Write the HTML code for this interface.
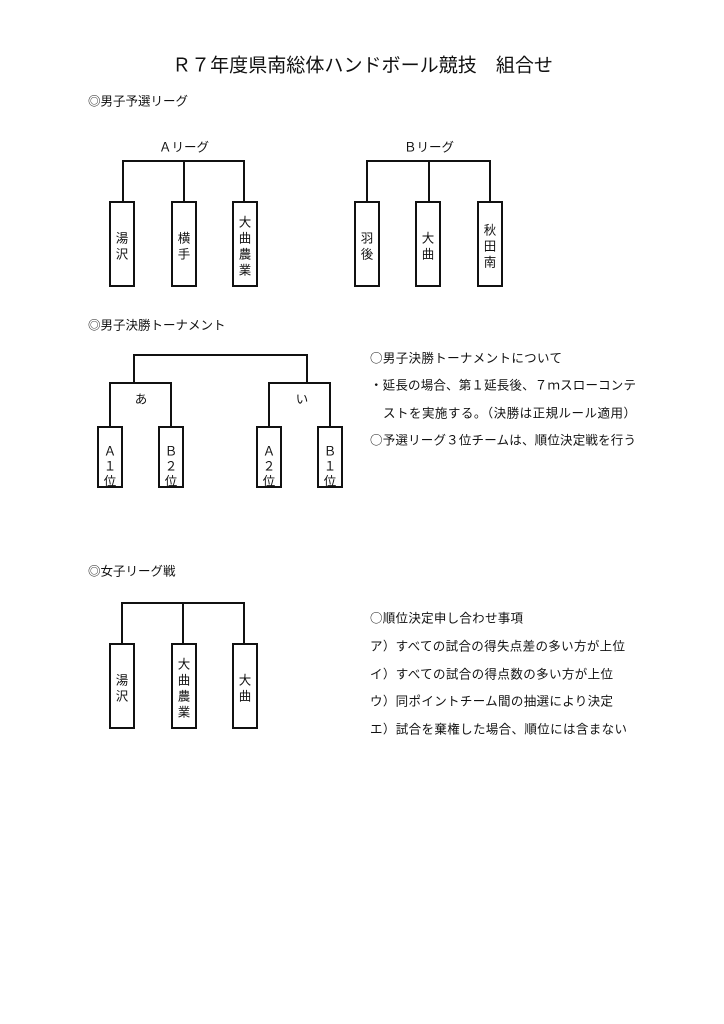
<!DOCTYPE html>
<html><head><meta charset="utf-8"><style>
html,body{margin:0;padding:0;background:#fff;}
svg{display:block;font-family:"Noto Sans CJK JP","Liberation Sans",sans-serif;}
text{fill:#111;}
</style></head><body>
<svg width="724" height="1024" viewBox="0 0 724 1024" xmlns="http://www.w3.org/2000/svg">
<g font-size="12.5" dominant-baseline="central">
<text x="172" y="64" font-size="19" textLength="381" lengthAdjust="spacingAndGlyphs">Ｒ７年度県南総体ハンドボール競技　組合せ</text>
<text x="88" y="100">◎男子予選リーグ</text>
<text x="88" y="324">◎男子決勝トーナメント</text>
<text x="88" y="570">◎女子リーグ戦</text>

<text x="184" y="146" text-anchor="middle">Ａリーグ</text>
<text x="429" y="146" text-anchor="middle">Ｂリーグ</text>

<text x="370" y="357" textLength="192">○男子決勝トーナメントについて</text>
<text x="370" y="384" textLength="266">・延長の場合、第１延長後、７ｍスローコンテ</text>
<text x="370" y="412" textLength="266">　ストを実施する。（決勝は正規ルール適用）</text>
<text x="370" y="439" textLength="266">○予選リーグ３位チームは、順位決定戦を行う</text>

<text x="370" y="617" textLength="153">○順位決定申し合わせ事項</text>
<text x="370" y="645" textLength="255">ア）すべての試合の得失点差の多い方が上位</text>
<text x="370" y="673" textLength="243">イ）すべての試合の得点数の多い方が上位</text>
<text x="370" y="700" textLength="243">ウ）同ポイントチーム間の抽選により決定</text>
<text x="370" y="728" textLength="257">エ）試合を棄権した場合、順位には含まない</text>

<text x="141" y="398" text-anchor="middle">あ</text>
<text x="302" y="398" text-anchor="middle">い</text>
</g>

<g stroke="#111" stroke-width="2" fill="none">
<polyline points="123,202 123,161 244,161 244,202"/>
<line x1="184" y1="161" x2="184" y2="202"/>
<rect x="110" y="202" width="24" height="84"/>
<rect x="172" y="202" width="24" height="84"/>
<rect x="233" y="202" width="24" height="84"/>
<polyline points="367,202 367,161 490,161 490,202"/>
<line x1="429" y1="161" x2="429" y2="202"/>
<rect x="355" y="202" width="24" height="84"/>
<rect x="416" y="202" width="24" height="84"/>
<rect x="478" y="202" width="24" height="84"/>
<polyline points="134,383 134,355 307,355 307,383"/>
<polyline points="110,427 110,383 171,383 171,427"/>
<polyline points="269,427 269,383 330,383 330,427"/>
<rect x="98" y="427" width="24" height="60"/>
<rect x="159" y="427" width="24" height="60"/>
<rect x="257" y="427" width="24" height="60"/>
<rect x="318" y="427" width="24" height="60"/>
<polyline points="122,644 122,603 244,603 244,644"/>
<line x1="183" y1="603" x2="183" y2="644"/>
<rect x="110" y="644" width="24" height="84"/>
<rect x="172" y="644" width="24" height="84"/>
<rect x="233" y="644" width="24" height="84"/>
</g>

<g font-size="12.5" text-anchor="middle" dominant-baseline="central">
<text x="122" y="237">湯</text><text x="122" y="253">沢</text>
<text x="184" y="237">横</text><text x="184" y="253">手</text>
<text x="245" y="221">大</text><text x="245" y="237">曲</text><text x="245" y="253">農</text><text x="245" y="269">業</text>
<text x="367" y="237">羽</text><text x="367" y="253">後</text>
<text x="428" y="237">大</text><text x="428" y="253">曲</text>
<text x="490" y="229">秋</text><text x="490" y="245">田</text><text x="490" y="261">南</text>
<text x="110" y="450">Ａ</text><text x="110" y="465">１</text><text x="110" y="480">位</text>
<text x="171" y="450">Ｂ</text><text x="171" y="465">２</text><text x="171" y="480">位</text>
<text x="269" y="450">Ａ</text><text x="269" y="465">２</text><text x="269" y="480">位</text>
<text x="330" y="450">Ｂ</text><text x="330" y="465">１</text><text x="330" y="480">位</text>
<text x="122" y="679">湯</text><text x="122" y="695">沢</text>
<text x="184" y="663">大</text><text x="184" y="679">曲</text><text x="184" y="695">農</text><text x="184" y="711">業</text>
<text x="245" y="679">大</text><text x="245" y="695">曲</text>
</g>
</svg>
</body></html>
